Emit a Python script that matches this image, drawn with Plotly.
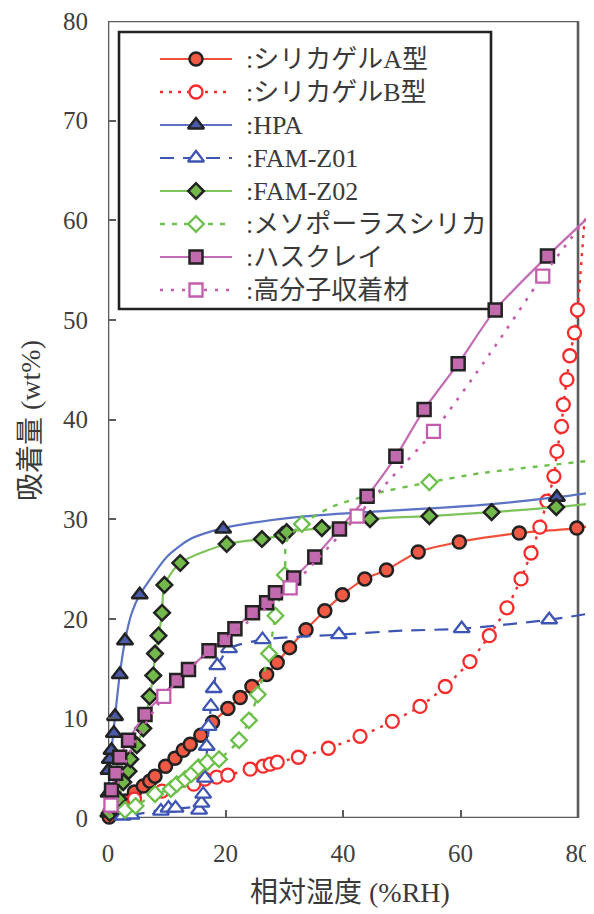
import plotly.graph_objects as go

# ---------------- data ----------------
# シリカゲルA型
sgA_x = [0.2, 1.5, 3.0, 4.5, 6.0, 7.1, 8.0, 9.8, 11.4, 12.8, 14.0, 15.8, 17.8, 20.4, 22.5, 24.5, 27.0,
         28.8, 30.9, 33.7, 36.9, 39.9, 43.7, 47.4, 52.8, 59.8, 70.0, 79.8]
sgA_y = [0.1, 0.8, 1.7, 2.6, 3.2, 3.7, 4.2, 5.2, 6.0, 6.8, 7.4, 8.3, 9.6, 11.0, 12.1, 13.2, 14.4,
         15.6, 17.1, 18.9, 20.8, 22.4, 24.0, 24.9, 26.7, 27.7, 28.6, 29.1]
sgA_ends_x = [0.0, 82.7]
sgA_ends_y = [0.0, 29.4]

# シリカゲルB型
sgB_x = [0.3, 4.5, 9.2, 14.6, 16.5, 18.5, 20.4, 24.2, 26.4, 27.6, 28.8, 32.4, 37.5, 42.9, 48.4, 53.1,
         57.4, 61.6, 64.9, 67.9, 70.3, 72.0, 73.5, 74.7, 75.9, 76.4, 77.2, 77.5, 78.1, 78.6, 79.4, 79.9]
sgB_y = [0.6, 1.9, 2.7, 3.4, 3.9, 4.1, 4.3, 4.9, 5.2, 5.4, 5.6, 6.1, 7.0, 8.2, 9.7, 11.2,
         13.2, 15.7, 18.3, 21.1, 24.0, 26.6, 29.2, 31.8, 34.3, 36.8, 39.3, 41.5, 44.0, 46.4, 48.7, 51.0]
sgB_ends_x = [0.0, 81.1]
sgB_ends_y = [0.3, 60.0]

# HPA
hpa_x = [0.05, 0.1, 0.1, 0.3, 0.6, 1.0, 1.2, 2.0, 2.9, 5.4, 19.6, 76.4]
hpa_y = [0.5, 2.5, 4.8, 5.9, 6.8, 8.5, 10.2, 14.4, 17.8, 22.4, 29.0, 32.2]
hpa_curve_x = [0.0, 0.1, 0.6, 1.2, 2.0, 2.9, 4.0, 5.4, 7.1, 10.0, 14.0, 19.6, 24.2, 32.1, 41.2, 63.3, 76.4, 82.7]
hpa_curve_y = [0.0, 2.5, 6.8, 10.2, 14.4, 17.8, 20.5, 22.4, 23.9, 26.2, 28.0, 29.1, 29.6, 30.2, 30.6, 31.4, 32.2, 32.7]

# FAM-Z01
z01_x = [2.5, 4.0, 9.0, 10.3, 11.5, 15.5, 15.9, 16.2, 16.5, 16.8, 17.1, 17.5, 18.0, 18.6, 20.6, 26.3, 39.3, 60.2, 75.1]
z01_y = [0.2, 0.3, 0.7, 1.0, 1.0, 0.8, 1.5, 2.4, 4.0, 7.2, 9.2, 11.2, 13.0, 15.3, 17.0, 17.9, 18.4, 19.0, 19.9]
z01_curve_x = [0.0, 4.0, 10.0, 15.0, 16.0, 16.5, 16.9, 17.3, 17.9, 18.8, 20.6, 26.3, 39.3, 50.0, 60.2, 75.1, 82.7]
z01_curve_y = [0.0, 0.3, 0.9, 1.2, 2.0, 4.0, 7.2, 10.0, 12.8, 15.4, 17.0, 17.9, 18.4, 18.8, 19.0, 19.9, 20.6]

# FAM-Z02
z02_x = [0.3, 1.0, 1.8, 2.6, 3.5, 3.8, 4.9, 6.0, 7.1, 7.7, 8.0, 8.6, 9.2, 9.6, 12.3, 20.2, 26.2,
         29.7, 30.4, 36.4, 44.6, 54.7, 65.3, 76.3]
z02_y = [0.5, 1.2, 1.9, 3.6, 4.7, 5.9, 7.3, 9.0, 12.2, 14.3, 16.5, 18.3, 20.6, 23.4, 25.6, 27.5, 28.0,
         28.4, 28.7, 29.1, 30.0, 30.3, 30.7, 31.2]
z02_ends_x = [0.0, 82.7]
z02_ends_y = [0.0, 31.6]

# メソポーラスシリカ
meso_x = [2.9, 4.7, 8.0, 10.7, 11.7, 13.1, 14.2, 15.4, 16.9, 18.9, 22.3, 24.0, 25.5, 27.4, 28.5, 30.1, 33.0, 54.7]
meso_y = [0.8, 1.2, 2.4, 2.9, 3.4, 3.9, 4.4, 5.1, 5.6, 5.9, 7.8, 9.8, 12.4, 16.5, 20.3, 24.4, 29.5, 33.7]
meso_curve_x = [0.0, 2.9, 4.7, 8.0, 10.7, 13.1, 15.4, 16.9, 18.9, 22.3, 24.0, 25.5, 27.4, 28.5, 30.1, 30.4,
                33.0, 38.4, 45.7, 54.7, 63.3, 82.7]
meso_curve_y = [0.0, 0.8, 1.2, 2.4, 2.9, 3.9, 5.1, 5.6, 5.9, 7.8, 9.8, 12.4, 16.5, 20.3, 24.4, 27.8,
                29.5, 31.3, 32.6, 33.7, 34.6, 35.9]

# ハスクレイ
hc_x = [0.6, 1.3, 2.0, 3.5, 6.3, 11.7, 13.7, 17.2, 19.9, 21.6, 24.6, 27.0, 28.5, 31.6, 35.2, 39.4,
        44.1, 49.0, 53.8, 59.6, 65.9, 74.8]
hc_y = [2.8, 4.5, 6.1, 7.8, 10.4, 13.8, 14.9, 16.8, 17.9, 19.0, 20.6, 21.6, 22.6, 24.1, 26.2, 29.0,
        32.3, 36.3, 41.0, 45.6, 51.0, 56.4]
hc_ends_x = [0.0, 82.7]
hc_ends_y = [0.5, 60.8]

# 高分子収着材
poly_x = [0.5, 9.5, 31.0, 42.4, 55.4, 74.0]
poly_y = [1.3, 12.2, 23.1, 30.3, 38.8, 54.4]
poly_curve_x = [0.0, 0.5, 4.0, 9.5, 15.0, 20.0, 25.0, 31.0, 36.0, 42.4, 48.0, 55.4, 65.0, 74.0, 82.7]
poly_curve_y = [0.3, 1.3, 7.0, 12.2, 15.6, 18.0, 20.2, 23.1, 26.2, 30.3, 34.0, 38.8, 46.6, 54.4, 61.2]

x_ticks = [0, 20, 40, 60, 80]
y_ticks = [0, 10, 20, 30, 40, 50, 60, 70, 80]
x_title = "相対湿度 (%RH)"
y_title = "吸着量 (wt%)"

# ---------------- styles ----------------
SERIF = "Liberation Serif, Noto Sans CJK JP"
EDGE = "#222222"
series = [
    dict(name=":シリカゲルA型", mx=sgA_x, my=sgA_y,
         lx=[sgA_ends_x[0]] + sgA_x + [sgA_ends_x[1]], ly=[sgA_ends_y[0]] + sgA_y + [sgA_ends_y[1]],
         lc="#f0503a", dash="solid", lw=2.2, sym="circle", size=13, fill="#f05a45", edge=EDGE, ew=2.5),
    dict(name=":シリカゲルB型", mx=sgB_x, my=sgB_y,
         lx=[sgB_ends_x[0]] + sgB_x + [sgB_ends_x[1]], ly=[sgB_ends_y[0]] + sgB_y + [sgB_ends_y[1]],
         lc="#f52c2c", dash="3px,6px", lw=2.4, sym="circle", size=13, fill="white", edge="#f52c2c", ew=2.3),
    dict(name=":HPA", mx=hpa_x, my=hpa_y, lx=hpa_curve_x, ly=hpa_curve_y,
         lc="#5b73c4", dash="solid", lw=2.2, sym="triangle-up", size=14, fill="#4a5aa8", edge=EDGE, ew=2.5),
    dict(name=":FAM-Z01", mx=z01_x, my=z01_y, lx=z01_curve_x, ly=z01_curve_y,
         lc="#3f55b4", dash="14px,9px", lw=2.2, sym="triangle-up", size=14, fill="white", edge="#3f55b4", ew=2.3),
    dict(name=":FAM-Z02", mx=z02_x, my=z02_y,
         lx=[z02_ends_x[0]] + z02_x + [z02_ends_x[1]], ly=[z02_ends_y[0]] + z02_y + [z02_ends_y[1]],
         lc="#7dc35a", dash="solid", lw=2.2, sym="diamond", size=12, fill="#72b84a", edge=EDGE, ew=2.5),
    dict(name=":メソポーラスシリカ", mx=meso_x, my=meso_y, lx=meso_curve_x, ly=meso_curve_y,
         lc="#6cc04a", dash="5px,7px", lw=2.4, sym="diamond", size=12, fill="white", edge="#6cc04a", ew=2.3),
    dict(name=":ハスクレイ", mx=hc_x, my=hc_y,
         lx=[hc_ends_x[0]] + hc_x + [hc_ends_x[1]], ly=[hc_ends_y[0]] + hc_y + [hc_ends_y[1]],
         lc="#c46db4", dash="solid", lw=2.2, sym="square", size=13, fill="#c26aae", edge=EDGE, ew=2.5),
    dict(name=":高分子収着材", mx=poly_x, my=poly_y, lx=poly_curve_x, ly=poly_curve_y,
         lc="#c45cae", dash="3px,8px", lw=2.6, sym="square", size=13, fill="white", edge="#c45cae", ew=2.3),
]

fig = go.Figure()
for s in series:
    fig.add_trace(go.Scatter(x=s["lx"], y=s["ly"], mode="lines",
                             line=dict(color=s["lc"], width=s["lw"], dash=s["dash"], shape="spline", smoothing=0.7),
                             hoverinfo="skip", showlegend=False))
    fig.add_trace(go.Scatter(x=s["mx"], y=s["my"], mode="markers", cliponaxis=False,
                             marker=dict(symbol=s["sym"], size=s["size"], color=s["fill"],
                                         line=dict(color=s["edge"], width=s["ew"])),
                             name=s["name"], showlegend=False))

# ---------------- hand-drawn legend on a pixel overlay axis (page pixel coords) ----------------
LEG_L, LEG_R, LEG_T, LEG_B = 119, 491, 32, 309
row0, row_step = 59, 33.0
for i, s in enumerate(series):
    yy = row0 + i * row_step
    fig.add_trace(go.Scatter(x=[160, 232], y=[yy, yy], xaxis="x2", yaxis="y2", mode="lines",
                             line=dict(color=s["lc"], width=s["lw"], dash=s["dash"]),
                             hoverinfo="skip", showlegend=False))
    fig.add_trace(go.Scatter(x=[196], y=[yy], xaxis="x2", yaxis="y2", mode="markers",
                             marker=dict(symbol=s["sym"], size=s["size"], color=s["fill"],
                                         line=dict(color=s["edge"], width=s["ew"])),
                             hoverinfo="skip", showlegend=False))
    fig.add_annotation(x=244, y=yy, xref="x2", yref="y2", text=s["name"], showarrow=False,
                       xanchor="left", yanchor="middle",
                       font=dict(family=SERIF, size=26, color="#3a3a3a"))

fig.add_shape(type="rect", xref="x2", yref="y2", x0=LEG_L, x1=LEG_R, y0=LEG_T, y1=LEG_B,
              line=dict(color="#222222", width=2.6), fillcolor="white", layer="below")
# plot frame (ends at 80 %RH, lines run past it as in the original)
fig.add_shape(type="rect", xref="x", yref="y", x0=0, x1=80, y0=0, y1=80,
              line=dict(color="#5c5c5c", width=2.6), fillcolor="rgba(0,0,0,0)", layer="below")

# The page body has an 8px margin: the figure is 8px smaller so that it ends at the window edge.
tickfont = dict(family=SERIF, size=25, color="#404040")
fig.update_layout(
    template="none",
    width=586, height=906,
    margin=dict(l=100, r=0, t=13, b=96, pad=0, autoexpand=False),
    paper_bgcolor="white", plot_bgcolor="white",
    showlegend=False,
    xaxis=dict(range=[0, 82.72], tickvals=x_ticks, ticks="inside", ticklen=8, tickwidth=2.2,
               tickcolor="#5c5c5c", showline=False, showgrid=False, zeroline=False,
               tickfont=tickfont, ticklabelstandoff=18, ticklabeloverflow="allow", automargin=False),
    yaxis=dict(range=[0, 80], tickvals=y_ticks, ticks="inside", ticklen=8, tickwidth=2.2,
               tickcolor="#5c5c5c", showline=False, showgrid=False, zeroline=False,
               tickfont=tickfont, ticklabelstandoff=19, ticklabeloverflow="allow", automargin=False),
    xaxis2=dict(overlaying="x", range=[108, 594], visible=False, showgrid=False, zeroline=False),
    yaxis2=dict(overlaying="y", range=[818, 21], visible=False, showgrid=False, zeroline=False),
)

fig.add_annotation(text=x_title, xref="paper", yref="paper", x=(350 - 108) / 486, y=(818 - 893) / 797,
                   showarrow=False, xanchor="center", yanchor="middle",
                   font=dict(family=SERIF, size=28, color="#3a3a3a"))
fig.add_annotation(text=y_title, xref="paper", yref="paper", x=(30 - 108) / 486, y=(818 - 421) / 797,
                   showarrow=False, xanchor="center", yanchor="middle", textangle=-90,
                   font=dict(family=SERIF, size=28, color="#3a3a3a"))

fig.write_html("out.html")
